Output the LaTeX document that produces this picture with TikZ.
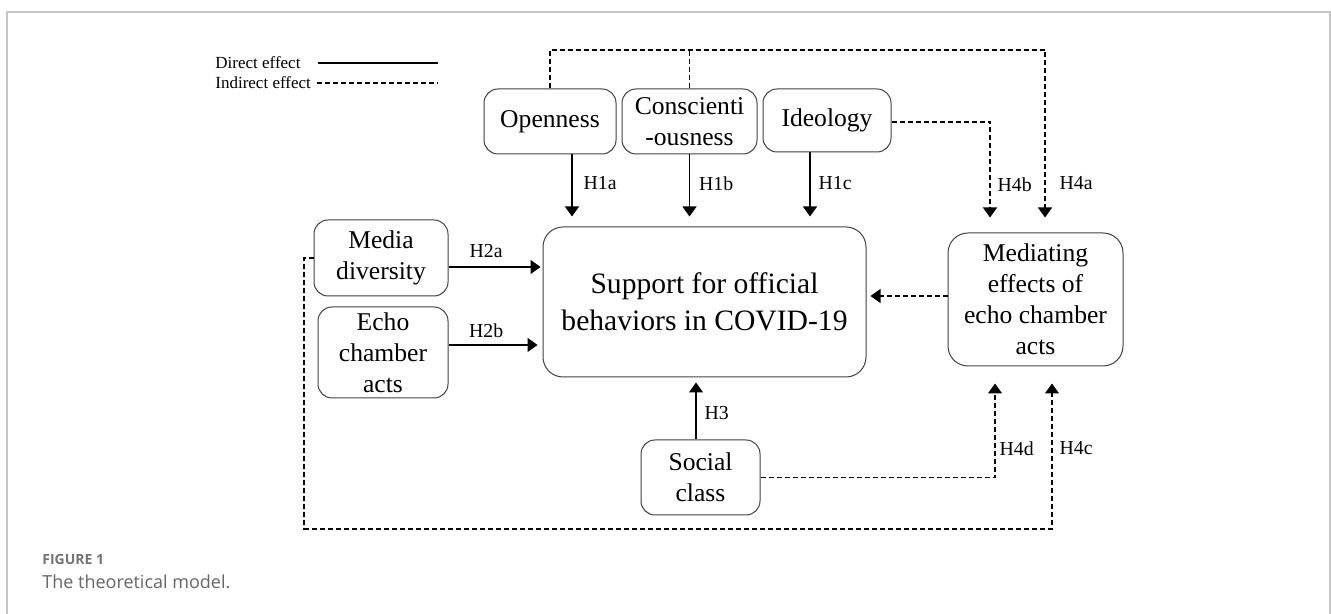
\documentclass[tikz,border=0pt]{standalone}
\usepackage{fontspec}
\setmainfont{Liberation Serif}
\newfontfamily\capfont{Open Sans}
\usetikzlibrary{arrows.meta, positioning}

\begin{document}
\begin{tikzpicture}[x=50pt, y=50pt,
  box/.style={draw=black!75, line width=0.5pt, rounded corners=7pt, align=center, inner sep=0pt, font=\fontsize{12.8}{15.5}\selectfont},
  plain/.style={line width=0.6pt},
  dashline/.style={plain, dash pattern=on 2.5pt off 1.5pt},
  direct/.style={plain, -{Triangle[width=7pt,length=5pt]}},
  indirect/.style={dashline, -{Triangle[width=7pt,length=5pt]}},
  hyp/.style={inner sep=0pt, font=\fontsize{9.9}{12}\selectfont},
  lgd/.style={inner sep=0pt, anchor=west, font=\fontsize{8.5}{10}\selectfont}]
\useasboundingbox (0,0) rectangle (13.31,6.14);
%\draw[step=1,gray,very thin] (0,0) grid (13.31,6.14); %background grid

% frame and caption
\draw[gray!45, line width=0.75pt] (0.07,0) -- (0.07,6.02) -- (13.30,6.02) -- (13.30,0);
\node[anchor=west, inner sep=0pt, text=black!55, font=\capfont\fontsize{7}{8}\selectfont\bfseries] (fignum) at (0.42,0.54) {FIGURE 1};
\node[anchor=west, inner sep=0pt, text=black!60, font=\capfont\fontsize{9}{11}\selectfont] (figcap) at (0.42,0.32) {The theoretical model.};

% legend
\node[lgd] (lgdir) at (2.15,5.51) {Direct effect};
\node[lgd] (lgind) at (2.15,5.31) {Indirect effect};
\coordinate (lgend) at (4.38,5.53);
\draw[plain] ([xshift=8.5pt]lgdir.east) -- (lgdir.east -| lgend);
\draw[dashline] ([xshift=3pt]lgind.east) -- (lgind.east -| lgend);

% boxes
\node[box, minimum width=66pt, minimum height=32.5pt] (open) at (5.50,4.925) {Openness};
\node[box, minimum width=67.5pt, minimum height=32.5pt] (consc) at (6.895,4.925) {Conscienti\\-ousness};
\node[box, minimum width=64pt, minimum height=31.5pt] (ideo) at (8.27,4.935) {Ideology};
\node[box, rounded corners=10pt, minimum width=161.5pt, minimum height=75pt, font=\fontsize{14.8}{18.5}\selectfont] (supp) at (7.045,3.12) {Support for official\\behaviors in COVID-19};
\node[box, rounded corners=10pt, minimum width=87.5pt, minimum height=66.5pt] (medi) at (10.355,3.145) {Mediating\\effects of\\echo chamber\\acts};
\node[box, minimum width=67pt, minimum height=38pt] (mdiv) at (3.81,3.56) {Media\\diversity};
\node[box, minimum width=65pt, minimum height=45.5pt] (echo) at (3.83,2.615) {Echo\\chamber\\acts};
\node[box, minimum width=59.5pt, minimum height=37.5pt] (social) at (7.005,1.365) {Social\\class};

% direct effects
\draw[direct, shorten >=5pt] ([xshift=11pt]open.south) -- node[hyp, pos=0.4, right=5.5pt] {H1a} ([xshift=11pt]open.south |- supp.north);
\draw[direct, shorten >=5pt] (consc.south) -- node[hyp, pos=0.4, right=4.5pt] {H1b} (consc.south |- supp.north);
\draw[direct, shorten >=5pt] ([xshift=-8.5pt]ideo.south) -- node[hyp, pos=0.41, right=4pt] {H1c} ([xshift=-8.5pt]ideo.south |- supp.north);
\draw[direct, shorten >=1pt] ([yshift=-4.5pt]mdiv.east) -- node[hyp, pos=0.4, above=4.3pt] {H2a} ([yshift=-4.5pt]mdiv.east -| supp.west);
\draw[direct, shorten >=2.5pt] ([yshift=3.75pt]echo.east) -- node[hyp, pos=0.4, above=3.3pt] {H2b} ([yshift=3.75pt]echo.east -| supp.west);
\draw[direct, shorten >=2.5pt] ([xshift=-2.25pt]social.north) -- node[hyp, pos=0.43, right=4pt] {H3} ([xshift=-2.25pt]social.north |- supp.south);

% indirect effects
\draw[indirect, shorten >=2pt] ([yshift=1.75pt]medi.west) -- ([yshift=1.75pt]medi.west -| supp.east);
\draw[indirect, shorten >=7.5pt] ([yshift=-0.75pt]ideo.east) -| node[hyp, pos=0.784, right=3.5pt] {H4b} ([xshift=-22.75pt]medi.north);
\coordinate (hub) at (6.895,5.64);
\draw[dashline] (consc.north) -- (hub);
\draw[indirect, shorten >=7.5pt] (open.north) |- (hub) -| node[hyp, pos=0.866, right=7pt] {H4a} ([xshift=4.75pt]medi.north);
\draw[indirect, shorten >=8.5pt] (social.east) -| node[hyp, pos=0.63, right=2pt] {H4d} ([xshift=-20.25pt]medi.south);
\coordinate (low) at (3.04,0.85);
\draw[indirect, shorten >=8.5pt] (mdiv.west) -| (low) -| node[hyp, pos=0.748, right=3.5pt] {H4c} ([xshift=8.25pt]medi.south);

\end{tikzpicture}
\end{document}
